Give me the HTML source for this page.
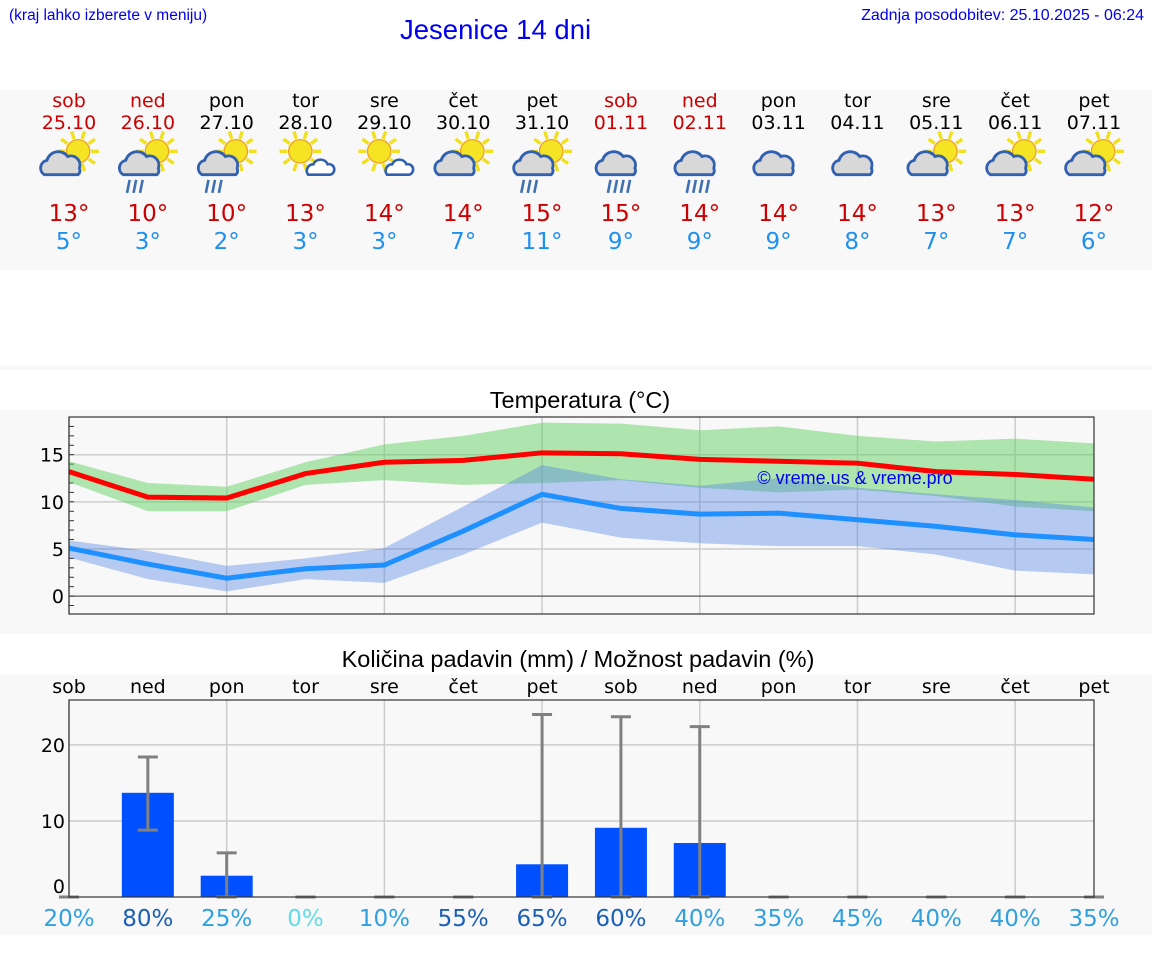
<!DOCTYPE html>
<html><head><meta charset="utf-8">
<style>
body{margin:0;width:1152px;height:975px;background:#fff;font-family:"DejaVu Sans","Liberation Sans",sans-serif;overflow:hidden;position:relative}
.abs{position:absolute}
</style></head>
<body>
<div class="abs" style="left:9px;top:7px;font-size:15.5px;color:#0000ee;font-family:'Liberation Sans',sans-serif">(kraj lahko izberete v meniju)</div>
<div class="abs" style="left:400px;top:14px;font-size:27.5px;color:#0000ee;font-family:'Liberation Sans',sans-serif">Jesenice 14 dni</div>
<div class="abs" style="right:8px;top:7px;font-size:16px;color:#0000ee;font-family:'Liberation Sans',sans-serif">Zadnja posodobitev: 25.10.2025 - 06:24</div>
<svg id="svg" class="abs" style="left:0;top:0" width="1152" height="975"></svg>
<script>
const days=["sob","ned","pon","tor","sre","čet","pet","sob","ned","pon","tor","sre","čet","pet"];
const dates=["25.10","26.10","27.10","28.10","29.10","30.10","31.10","01.11","02.11","03.11","04.11","05.11","06.11","07.11"];
const weekend=[1,1,0,0,0,0,0,1,1,0,0,0,0,0];
const icons=["pc","pcr","pcr","ps","ps","pc","pcr","cr","cr","c","c","pc","pc","pc"];
const tmax=[13.2,10.5,10.4,13.0,14.2,14.4,15.2,15.1,14.5,14.3,14.1,13.2,12.9,12.4];
const tmaxHi=[14.3,12.0,11.6,14.2,16.1,17.0,18.4,18.3,17.6,18.0,17.0,16.4,16.7,16.2];
const tmaxLo=[12.1,9.0,9.0,11.8,12.3,11.8,12.0,12.3,11.5,11.0,11.3,10.6,9.5,9.0];
const tmin=[5.1,3.4,1.9,2.9,3.3,6.9,10.8,9.3,8.7,8.8,8.1,7.4,6.5,6.0];
const tminHi=[5.9,4.8,3.2,4.0,5.1,9.5,13.9,12.4,11.7,12.5,11.5,10.8,10.2,9.4];
const tminLo=[4.1,1.8,0.5,1.8,1.4,4.4,7.8,6.2,5.6,5.3,5.3,4.4,2.7,2.3];
const maxLabels=[13,10,10,13,14,14,15,15,14,14,14,13,13,12];
const minLabels=[5,3,2,3,3,7,11,9,9,9,8,7,7,6];
const precip=[0,13.7,2.8,0,0,0,4.3,9.1,7.1,0,0,0,0,0];
const precipHi=[0,18.4,5.8,0,0,0,24.0,23.7,22.4,0,0,0,0,0];
const precipLo=[0,8.8,0,0,0,0,0,0,0,0,0,0,0,0];
const chance=[20,80,25,0,10,55,65,60,40,35,45,40,40,35];
const tTicks=[0,5,10,15];
const pTicks=[0,10,20];

const svg=document.getElementById('svg');const NS='http://www.w3.org/2000/svg';
function el(t,a,p){const e=document.createElementNS(NS,t);for(const k in a)e.setAttribute(k,a[k]);(p||svg).appendChild(e);return e;}
function txt(x,y,s,a){const e=el('text',Object.assign({x:x,y:y,'text-anchor':'middle','font-family':'DejaVu Sans, Liberation Sans, sans-serif'},a));e.textContent=s;return e;}
const X0=69,X1=1094;
const xd=i=>X0+i*(X1-X0)/13;
el('rect',{x:0,y:90,width:1152,height:180,fill:'#f8f8f8'});
el('rect',{x:0,y:365,width:1152,height:5,fill:'#f8f8f8'});
el('rect',{x:0,y:410,width:1152,height:224,fill:'#f8f8f8'});
el('rect',{x:0,y:675,width:1152,height:260,fill:'#f8f8f8'});
function icon(g,type){
  const sun=type[0]=='p';
  if(sun){const sx=type=='ps'?-4:7, sy=-9;
    for(let k=0;k<10;k++){const a=k*Math.PI/5;el('line',{x1:sx+Math.cos(a)*10,y1:sy+Math.sin(a)*10,x2:sx+Math.cos(a)*16,y2:sy+Math.sin(a)*16,stroke:'#f0e020','stroke-width':2.6},g);}
    el('circle',{cx:sx,cy:sy,r:9,fill:'#f4e424',stroke:'#f0a020','stroke-width':1},g);}
  if(type=='ps'){el('path',{d:`M2,9 a5,5 0 0 1 4,-8 a6,6 0 0 1 11,0 a4,4 0 0 1 2,8 z`,fill:'#fff',stroke:'#3060b0','stroke-width':2},g);return;}
  const big=!sun; const ox=sun?-6:0, s=big?1.25:1;
  el('path',{d:`M${ox-13*s},${9} a6,6 0 0 1 2,-11 a9,9 0 0 1 16,-3 a7,7 0 0 1 9,9 a4,4 0 0 1 -1,5 z`,fill:'#d8d8d8',stroke:'#3060b0','stroke-width':2.2},g);
  if(type.endsWith('r')){const n=type=='pcr'?3:4;for(let k=0;k<n;k++)el('line',{x1:ox-8+k*5,y1:13,x2:ox-10+k*5,y2:23,stroke:'#4070b0','stroke-width':2},g);}
}
days.forEach((d,i)=>{
  const x=xd(i);const c=weekend[i]?'#cc0000':'#000';
  let t=txt(x,107,d,{'font-size':19,fill:c});
  t=txt(x,129,dates[i],{'font-size':19,fill:c});
  const g=el('g',{transform:`translate(${x},163) scale(1.3)`});
  icon(g,icons[i]);
  t=txt(x,221,maxLabels[i]+'°',{'font-size':23,fill:'#cc0000'});
  t=txt(x,249,minLabels[i]+'°',{'font-size':23,fill:'#2090f0'});
});
const TY0=417,TY1=614,TMIN=-1.9,TMAX=19.0;
const ty=v=>TY1-(v-TMIN)/(TMAX-TMIN)*(TY1-TY0);
let t=txt(580,408,'Temperatura (°C)',{'font-size':23.5,fill:'#000','font-family':'Liberation Sans, sans-serif'});
for(let i=0;i<14;i+=2)el('line',{x1:xd(i),y1:TY0,x2:xd(i),y2:TY1,stroke:'#ccc','stroke-width':1.5});
tTicks.forEach(v=>{el('line',{x1:X0,y1:ty(v),x2:X1,y2:ty(v),stroke:v==0?'#555':'#ccc','stroke-width':v==0?1.2:1.5});
  const l=txt(X0-5,ty(v)+7,String(v),{'font-size':19,'text-anchor':'end'});});
for(let v=-1;v<=19;v++)el('line',{x1:X0,y1:ty(v),x2:X0+5,y2:ty(v),stroke:'#333','stroke-width':1});
function band(hi,lo,fill,name){let d='';hi.forEach((v,i)=>d+=(i?'L':'M')+xd(i)+','+ty(v));for(let i=lo.length-1;i>=0;i--)d+='L'+xd(i)+','+ty(lo[i]);const p=el('path',{d:d+'Z',fill:fill});}
function line(v,c,name){const p=el('polyline',{points:v.map((y,i)=>xd(i)+','+ty(y)).join(' '),fill:'none',stroke:c,'stroke-width':5});}
band(tmaxHi,tmaxLo,'rgba(100,210,100,0.5)','max-temp-band');
band(tminHi,tminLo,'rgba(80,130,230,0.4)','min-temp-band');
line(tmax,'#ff0000','max-temp-line');
line(tmin,'#1e90ff','min-temp-line');
el('rect',{x:X0,y:TY0,width:X1-X0,height:TY1-TY0,fill:'none',stroke:'#333','stroke-width':1.2});
t=txt(855,484,'© vreme.us & vreme.pro',{'font-size':18,fill:'#0000ee','font-family':'Liberation Sans, sans-serif'});
const PY0=700,PY1=897,PMAX=25.9;
const py=v=>PY1-v/PMAX*(PY1-PY0);
t=txt(578,667,'Količina padavin (mm) / Možnost padavin (%)',{'font-size':23.5,'font-family':'Liberation Sans, sans-serif'});
for(let i=0;i<14;i+=2)el('line',{x1:xd(i),y1:PY0,x2:xd(i),y2:PY1,stroke:'#ccc','stroke-width':1.5});
pTicks.forEach(v=>{if(v>0)el('line',{x1:X0,y1:py(v),x2:X1,y2:py(v),stroke:'#ccc','stroke-width':1.5});
  const l=txt(X0-4,py(v)+(v==0?-4:7),String(v),{'font-size':19,'text-anchor':'end'});});
days.forEach((d,i)=>{const x=xd(i);
  let l=txt(x,693,d,{'font-size':19});
  if(precip[i]>0){const r=el('rect',{x:x-26,y:py(precip[i]),width:52,height:PY1-py(precip[i]),fill:'#0050ff'});}
  const g=el('g',{stroke:'#808080','stroke-width':3});
  el('line',{x1:x,y1:py(precipLo[i]),x2:x,y2:py(precipHi[i])},g);
  el('line',{x1:x-10,y1:py(precipHi[i]),x2:x+10,y2:py(precipHi[i])},g);
  el('line',{x1:x-10,y1:py(precipLo[i]),x2:x+10,y2:py(precipLo[i])},g);
  const c=chance[i]==0?'#60dde8':(chance[i]>=55||chance[i]==80?'#1a60b8':'#30a0e0');
  l=txt(x,926,chance[i]+'%',{'font-size':23,fill:c});
});
el('rect',{x:X0,y:PY0,width:X1-X0,height:PY1-PY0,fill:'none',stroke:'#333','stroke-width':1.2});
</script>
</body></html>
